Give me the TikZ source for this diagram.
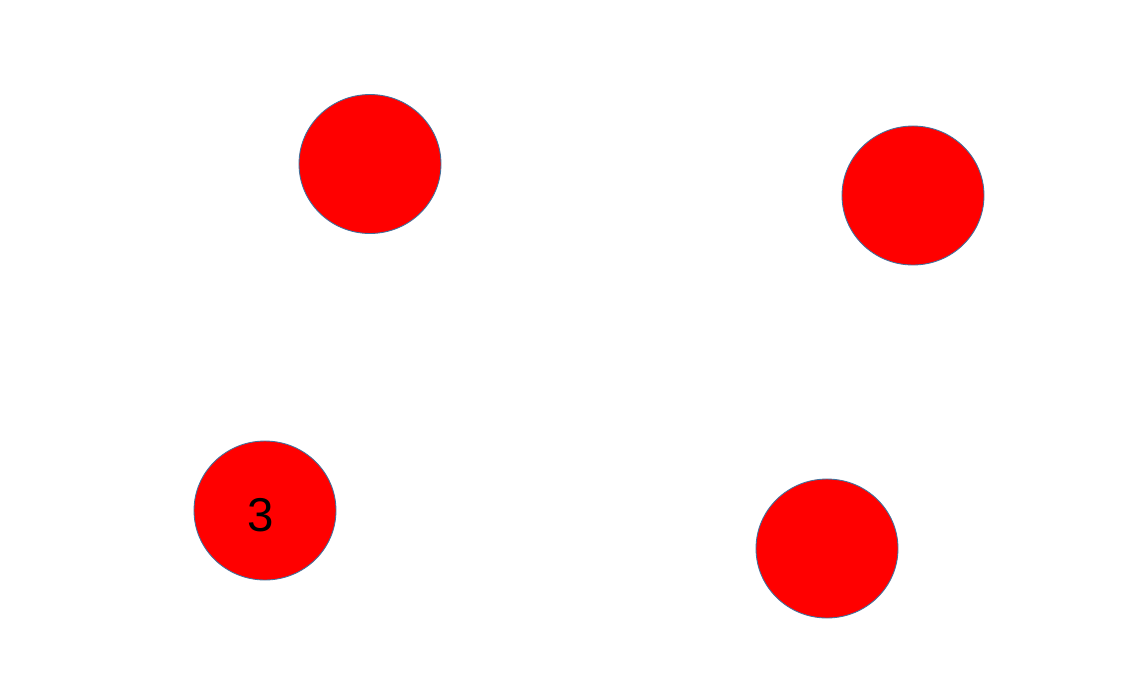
\documentclass[tikz,border=0pt]{standalone}
\usepackage{fontspec}
\setmainfont{Liberation Sans}
\usetikzlibrary{shapes.geometric}
\definecolor{ballred}{RGB}{255,0,0}
\definecolor{ballrim}{RGB}{65,113,156}

\begin{document}
\begin{tikzpicture}[x=0.02cm, y=-0.02cm,
    ball/.style={ellipse, draw=ballrim, line width=0.5pt, fill=ballred,
        minimum width=2.84cm, minimum height=2.78cm, inner sep=0pt,
        font=\fontsize{27}{30}\selectfont}]
    % Rahmen
    \useasboundingbox (0,0) rectangle (1133,681);
    % Kugeln
    \node[ball] (b1) at (370,164) {};
    \node[ball] (b2) at (913,195.5) {};
    \node[ball] (b3) at (265,510.5) {};
    \node[ball] (b4) at (827,548.5) {};
    % Beschriftung
    \node[font=\fontsize{27}{30}\selectfont, inner sep=0pt] (t3) at (261,515) {3};
\end{tikzpicture}
\end{document}
